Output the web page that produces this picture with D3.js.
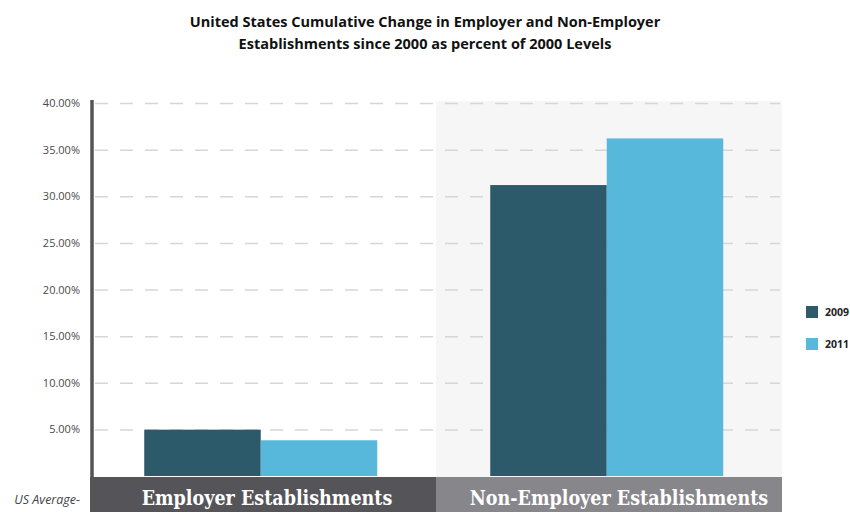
<!DOCTYPE html>
<html>
<head>
<meta charset="utf-8">
<script src="https://cdn.jsdelivr.net/npm/d3@7"></script>
<style>
  html, body { margin: 0; padding: 0; background: #ffffff; }
  svg { display: block; }
</style>
</head>
<body>
<svg id="chart" width="850" height="512"></svg>
<script>
// Categories, series and values (percent change since 2000)
const categories = ["Employer Establishments", "Non-Employer Establishments"];
const seriesNames = ["2009", "2011"];
const values2009 = [4.97, 31.2];
const values2011 = [3.83, 36.2];
const tickValues = [5, 10, 15, 20, 25, 30, 35, 40];
const seriesColors = ["#2c5a6b", "#58b8dc"];
const bandColors = ["#555459", "#87868b"];
const panelFills = ["#ffffff", "#f6f6f6"];

const svg = d3.select("#chart");
const plotLeft = 90, plotRight = 782, plotTop = 101, plotBottom = 477;

const x = d3.scaleBand().domain(categories).range([plotLeft, plotRight]).padding(0);
const xInner = d3.scaleBand().domain(seriesNames).range([0, x.bandwidth()])
  .paddingInner(0).paddingOuter(0.485).align(0.48);
const y = d3.scaleLinear().domain([0, 40]).range([plotBottom - 1, plotTop + 2]);

// Title
const title = svg.append("text")
  .attr("x", 425).attr("text-anchor", "middle")
  .attr("font-family", "'Open Sans', sans-serif")
  .attr("font-weight", 700).attr("font-size", 14.5).attr("fill", "#111");
title.append("tspan").attr("x", 425).attr("y", 27)
  .text("United States Cumulative Change in Employer and Non-Employer");
title.append("tspan").attr("x", 425).attr("y", 49)
  .text("Establishments since 2000 as percent of 2000 Levels");

// Panel backgrounds
svg.append("g").selectAll("rect").data(categories).join("rect")
  .attr("x", d => x(d)).attr("y", plotTop)
  .attr("width", x.bandwidth()).attr("height", plotBottom - plotTop)
  .attr("fill", (d, i) => panelFills[i]);

// Dashed gridlines
const yAxis = d3.axisLeft(y).tickValues(tickValues)
  .tickSize(-(plotRight - plotLeft - 7)).tickPadding(11)
  .tickFormat(d => d.toFixed(2) + "%");
const gy = svg.append("g").attr("transform", `translate(${plotLeft + 5},0)`).call(yAxis);
gy.select(".domain").remove();
gy.selectAll(".tick line")
  .attr("stroke", "#d6d6d6").attr("stroke-width", 1.5)
  .attr("stroke-dasharray", "13,12");
gy.selectAll(".tick text")
  .attr("x", -15)
  .attr("font-family", "'Open Sans', sans-serif")
  .attr("font-size", 11).attr("fill", "#4a4a4a");

// Bars
const groups = svg.append("g").selectAll("g").data(categories).join("g")
  .attr("transform", d => `translate(${x(d)},0)`);
groups.selectAll("rect")
  .data((d, i) => [values2009[i], values2011[i]].map((v, j) => ({ s: seriesNames[j], v, j })))
  .join("rect")
  .attr("x", d => xInner(d.s))
  .attr("width", xInner.bandwidth())
  .attr("y", d => y(d.v))
  .attr("height", d => y(0) - y(d.v))
  .attr("fill", d => seriesColors[d.j]);

// Category bands at the bottom
const bands = svg.append("g").selectAll("g").data(categories).join("g");
bands.append("rect")
  .attr("x", d => x(d)).attr("y", plotBottom)
  .attr("width", x.bandwidth()).attr("height", 512 - plotBottom + 2)
  .attr("fill", (d, i) => bandColors[i]);
bands.append("text")
  .attr("x", (d, i) => x(d) + x.bandwidth() / 2 + (i === 0 ? 4 : 10))
  .attr("y", 505)
  .attr("text-anchor", "middle")
  .attr("font-family", "'DejaVu Serif Condensed', 'DejaVu Serif', Georgia, serif")
  .attr("font-stretch", "condensed")
  .attr("font-weight", 700).attr("font-size", 19.5)
  .attr("fill", "#ffffff")
  .text(d => d);

// Vertical axis line
svg.append("line")
  .attr("x1", plotLeft + 2).attr("x2", plotLeft + 2)
  .attr("y1", plotTop - 1).attr("y2", plotBottom)
  .attr("stroke", "#555459").attr("stroke-width", 3.5);

// "US Average-" label
svg.append("text")
  .attr("x", 80).attr("y", 504).attr("text-anchor", "end")
  .attr("font-family", "'Open Sans', sans-serif")
  .attr("font-style", "italic").attr("font-size", 12.5).attr("fill", "#444")
  .text("US Average-");

// Legend
const legend = svg.append("g").selectAll("g").data(seriesNames).join("g")
  .attr("transform", (d, i) => `translate(806,${306 + i * 32})`);
legend.append("rect").attr("width", 12).attr("height", 12)
  .attr("fill", (d, i) => seriesColors[i]);
legend.append("text").attr("x", 19).attr("y", 10)
  .attr("font-family", "'Open Sans', sans-serif")
  .attr("font-weight", 700).attr("font-size", 10.5).attr("fill", "#222")
  .text(d => d);
</script>
</body>
</html>
